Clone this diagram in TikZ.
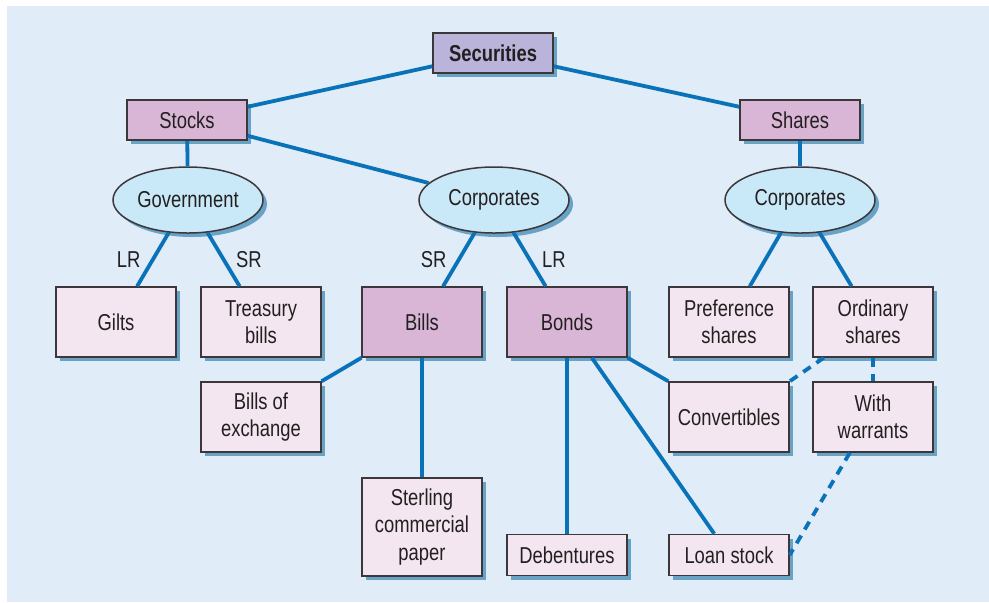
\documentclass[tikz,border=0pt]{standalone}
\usepackage{fontspec}
\setmainfont{Liberation Sans}[FakeStretch=0.8]
\usetikzlibrary{
	shapes.geometric,
	shadows,
	positioning
}

\definecolor{bgblue}{RGB}{224,236,248}
\definecolor{lineblue}{RGB}{10,114,184}
\definecolor{shadowblue}{RGB}{104,162,196}
\definecolor{palefill}{RGB}{243,230,240}
\definecolor{darkfill}{RGB}{217,182,214}
\definecolor{topfill}{RGB}{186,180,218}
\definecolor{ovalfill}{RGB}{201,232,248}
\definecolor{edgegray}{RGB}{60,55,58}
\definecolor{textdark}{RGB}{35,31,32}

\begin{document}
\begin{tikzpicture}[
				x=0.5pt, y=-0.5pt,
				box/.style={
					rectangle, draw=edgegray, line width=0.75pt,
					minimum width=60pt, minimum height=35pt, inner sep=1pt,
					align=center, fill=palefill, text=textdark,
					font=\fontsize{11.5}{13.7}\selectfont,
					drop shadow={shadow xshift=2pt, shadow yshift=-2pt, fill=shadowblue, opacity=1}
				},
				darkbox/.style={
					box, fill=darkfill
				},
				headbox/.style={
					darkbox, minimum height=20pt
				},
				topbox/.style={
					headbox, fill=topfill, font=\fontsize{11.5}{13.7}\selectfont\bfseries
				},
				shortbox/.style={
					box, minimum height=20.5pt
				},
				oval/.style={
					ellipse, draw=edgegray, line width=0.75pt,
					minimum width=75pt, minimum height=33pt, inner sep=0pt,
					fill=ovalfill, text=textdark,
					font=\fontsize{11.5}{13.7}\selectfont,
					drop shadow={shadow xshift=2pt, shadow yshift=-2pt, fill=shadowblue, opacity=1}
				},
				link/.style={line width=1.9pt, draw=lineblue},
				dashlink/.style={link, dash pattern=on 4.5pt off 3.5pt},
				lbl/.style={text=textdark, font=\fontsize{11.5}{13.7}\selectfont},
				]
				
				\useasboundingbox (0,0) rectangle (989,602);
				\fill[bgblue] (7,6) rectangle (989,602);
				
				%top levels
				\node[topbox] (securities) at (493,53) {Securities};
				\node[headbox] (stocks) at (187,120) {Stocks};
				\node[headbox] (shares) at (800,120) {Shares};
				
				\node[oval] (government) at (188,200) {Government};
				\node[oval] (corpstocks) at (494,200) {Corporates};
				\node[oval] (corpshares) at (800,200) {Corporates};
				
				%row of boxes
				\node[box] (gilts) at (116,322) {Gilts};
				\node[box] (treasury) at (261,322) {Treasury\\bills};
				\node[darkbox] (bills) at (422,322) {Bills};
				\node[darkbox] (bonds) at (567,322) {Bonds};
				\node[box] (preference) at (729,322) {Preference\\shares};
				\node[box] (ordinary) at (873,322) {Ordinary\\shares};
				
				%lower boxes
				\node[box] (billsexch) at (261,417) {Bills of\\exchange};
				\node[box] (convertibles) at (729,417) {Convertibles};
				\node[box] (warrants) at (873,417) {With\\warrants};
				\node[box, minimum height=49pt] (sterling) at (422,527) {Sterling\\commercial\\paper};
				\node[shortbox] (debentures) at (567,555) {Debentures};
				\node[shortbox] (loanstock) at (729,555) {Loan stock};
				
				%connectors
				\draw[link] (securities) -- (stocks);
				\draw[link] (securities) -- (shares);
				\draw[link] (stocks) -- (government);
				\draw[link] (stocks) -- (corpstocks);
				\draw[link] (shares) -- (corpshares);
				
				\draw[link] (government) -- node[lbl, left=2pt] {LR} (gilts);
				\draw[link] (government) -- node[lbl, right=2pt] {SR} (treasury);
				\draw[link] (corpstocks) -- node[lbl, left=2pt] {SR} (bills);
				\draw[link] (corpstocks) -- node[lbl, right=2pt] {LR} (bonds);
				\draw[link] (corpshares) -- (preference);
				\draw[link] (corpshares) -- (ordinary);
				
				\draw[link] (bills) -- (billsexch);
				\draw[link] (bills) -- (sterling);
				\draw[link] (bonds) -- (debentures);
				\draw[link] (bonds) -- (loanstock);
				\draw[link] (bonds.south east) -- (convertibles.north west);
				
				\draw[dashlink] (ordinary.216) -- (convertibles.north east);
				\draw[dashlink] (ordinary) -- (warrants);
				\draw[dashlink] (warrants.237) -- (loanstock.east);
\end{tikzpicture}
\end{document}
